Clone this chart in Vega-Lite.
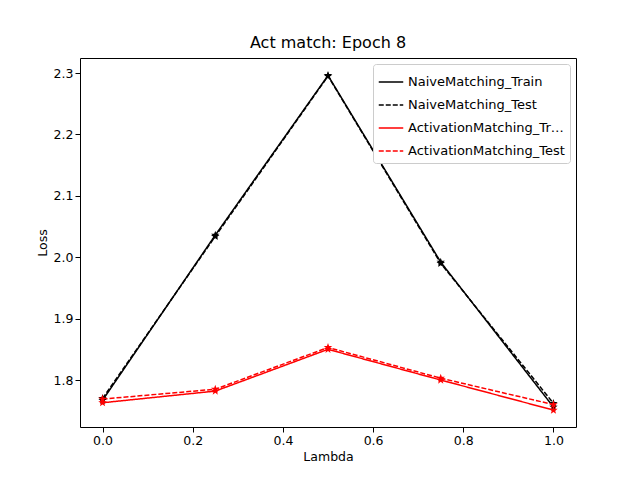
{
  "$schema": "https://vega.github.io/schema/vega-lite/v6.json",
  "width": 496,
  "height": 369,
  "autosize": "none",
  "padding": {"left": 80, "top": 58, "right": 64, "bottom": 53},
  "background": "white",
  "title": {"text": "Act match: Epoch 8", "font": "DejaVu Sans", "fontSize": 16, "fontWeight": "normal", "offset": 7},
  "data": {"values": [
    {"lambda": 0.0, "loss": 1.767, "series": "NaiveMatching_Train"},
    {"lambda": 0.25, "loss": 2.036, "series": "NaiveMatching_Train"},
    {"lambda": 0.5, "loss": 2.296, "series": "NaiveMatching_Train"},
    {"lambda": 0.75, "loss": 1.992, "series": "NaiveMatching_Train"},
    {"lambda": 1.0, "loss": 1.756, "series": "NaiveMatching_Train"},
    {"lambda": 0.0, "loss": 1.770, "series": "NaiveMatching_Test"},
    {"lambda": 0.25, "loss": 2.034, "series": "NaiveMatching_Test"},
    {"lambda": 0.5, "loss": 2.295, "series": "NaiveMatching_Test"},
    {"lambda": 0.75, "loss": 1.990, "series": "NaiveMatching_Test"},
    {"lambda": 1.0, "loss": 1.762, "series": "NaiveMatching_Test"},
    {"lambda": 0.0, "loss": 1.763, "series": "ActivationMatching_Train"},
    {"lambda": 0.25, "loss": 1.782, "series": "ActivationMatching_Train"},
    {"lambda": 0.5, "loss": 1.850, "series": "ActivationMatching_Train"},
    {"lambda": 0.75, "loss": 1.800, "series": "ActivationMatching_Train"},
    {"lambda": 1.0, "loss": 1.751, "series": "ActivationMatching_Train"},
    {"lambda": 0.0, "loss": 1.769, "series": "ActivationMatching_Test"},
    {"lambda": 0.25, "loss": 1.785, "series": "ActivationMatching_Test"},
    {"lambda": 0.5, "loss": 1.853, "series": "ActivationMatching_Test"},
    {"lambda": 0.75, "loss": 1.803, "series": "ActivationMatching_Test"},
    {"lambda": 1.0, "loss": 1.760, "series": "ActivationMatching_Test"}
  ]},
  "mark": {
    "type": "line",
    "strokeWidth": 1.5,
    "point": {"filled": true, "size": 80, "shape": "M0,-1L0.235,-0.324L0.951,-0.309L0.38,0.124L0.588,0.809L0,0.4L-0.588,0.809L-0.38,0.124L-0.951,-0.309L-0.235,-0.324Z"}
  },
  "encoding": {
    "x": {"field": "lambda", "type": "quantitative", "title": "Lambda",
      "scale": {"domain": [-0.05, 1.05], "nice": false},
      "axis": {"values": [0, 0.2, 0.4, 0.6, 0.8, 1.0], "format": ".1f"}},
    "y": {"field": "loss", "type": "quantitative", "title": "Loss",
      "scale": {"domain": [1.7235, 2.3245], "nice": false, "zero": false},
      "axis": {"values": [1.8, 1.9, 2.0, 2.1, 2.2, 2.3], "format": ".1f"}},
    "color": {"field": "series", "type": "nominal",
      "sort": ["NaiveMatching_Train", "NaiveMatching_Test", "ActivationMatching_Train", "ActivationMatching_Test"],
      "scale": {"domain": ["NaiveMatching_Train", "NaiveMatching_Test", "ActivationMatching_Train", "ActivationMatching_Test"], "range": ["black", "black", "red", "red"]},
      "legend": {"title": null, "orient": "top-right", "offset": 6, "symbolType": "stroke", "symbolStrokeWidth": 1.5, "labelFontSize": 13, "padding": 5, "rowPadding": 3, "strokeColor": "#cccccc", "fillColor": "white", "cornerRadius": 3, "symbolSize": 600}},
    "strokeDash": {"field": "series", "type": "nominal",
      "scale": {"domain": ["NaiveMatching_Train", "NaiveMatching_Test", "ActivationMatching_Train", "ActivationMatching_Test"], "range": [[1, 0], [5, 2], [1, 0], [5, 2]]},
      "legend": null}
  },
  "config": {
    "font": "DejaVu Sans",
    "view": {"stroke": "black", "strokeWidth": 1},
    "axis": {"grid": false, "domain": false, "tickColor": "black", "labelColor": "black", "labelFontSize": 12.5, "titleFontSize": 12.5, "titleFontWeight": "normal", "titleColor": "black", "labelFont": "DejaVu Sans", "titleFont": "DejaVu Sans"},
    "legend": {"labelFont": "DejaVu Sans", "labelColor": "black"}
  }
}
